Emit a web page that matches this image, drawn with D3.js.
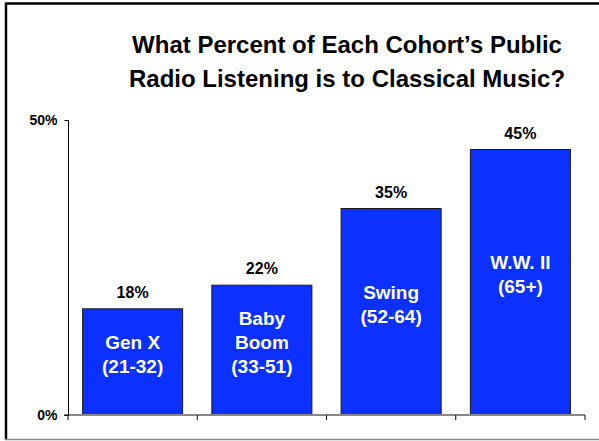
<!DOCTYPE html>
<html>
<head>
<meta charset="utf-8">
<script src="https://cdn.jsdelivr.net/npm/d3@7"></script>
<style>
  html, body { margin: 0; padding: 0; background: #fff; }
  svg { display: block; font-family: "Liberation Sans", Arial, sans-serif; }
</style>
</head>
<body>
<svg id="chart" width="599" height="441"></svg>
<script>
const titleLines = ["What Percent of Each Cohort\u2019s Public", "Radio Listening is to Classical Music?"];
const categories = ["Gen X", "Baby Boom", "Swing", "W.W. II"];
const barLabels = [["Gen X", "(21-32)"], ["Baby", "Boom", "(33-51)"], ["Swing", "(52-64)"], ["W.W. II", "(65+)"]];
const values = [18, 22, 35, 45];
const yTicks = [0, 50];

const svg = d3.select("#chart");
const W = 599, H = 441;

// frame
svg.append("line").attr("x1", 5).attr("x2", W).attr("y1", 3.5).attr("y2", 3.5)
  .attr("stroke", "#000").attr("stroke-width", 2.5);
svg.append("line").attr("x1", 6).attr("x2", 6).attr("y1", 3).attr("y2", 440)
  .attr("stroke", "#000").attr("stroke-width", 2.5);
svg.append("line").attr("x1", 5).attr("x2", W).attr("y1", 439.5).attr("y2", 439.5)
  .attr("stroke", "#888").attr("stroke-width", 1.5);

// title
svg.append("text")
  .attr("x", 347).attr("y", 52.5)
  .attr("text-anchor", "middle")
  .attr("font-size", 24).attr("font-weight", "bold").attr("fill", "#000")
  .selectAll("tspan").data(titleLines).join("tspan")
  .attr("x", 347).attr("dy", (d, i) => i === 0 ? 0 : 34)
  .text(d => d);

const x = d3.scaleBand().domain(categories).range([68, 585])
  .paddingInner(0.226).paddingOuter(0.113);
const y = d3.scaleLinear().domain([0, 50]).range([415, 120]);

// bars
svg.append("g").selectAll("rect").data(values).join("rect")
  .attr("x", (d, i) => x(categories[i]))
  .attr("y", d => y(d))
  .attr("width", x.bandwidth())
  .attr("height", d => y(0) - y(d))
  .attr("fill", "#0b30ff")
  .attr("stroke", "#1a1a1a").attr("stroke-width", 1);

// x axis (gray baseline with black category ticks)
svg.append("line").attr("x1", 64).attr("x2", 585).attr("y1", y(0)).attr("y2", y(0))
  .attr("stroke", "#888").attr("stroke-width", 2);
const step = x.step();
const bounds = d3.range(categories.length + 1).map(i => 68 + i * step);
svg.append("g").selectAll("line").data(bounds).join("line")
  .attr("x1", d => d).attr("x2", d => d)
  .attr("y1", y(0)).attr("y2", y(0) + 5)
  .attr("stroke", "#000").attr("stroke-width", 1);

// y axis
const yAxis = d3.axisLeft(y).tickValues(yTicks).tickSize(4).tickFormat(d => d + "%");
const gy = svg.append("g").attr("transform", "translate(68.5,0)").call(yAxis);
gy.select(".domain").attr("stroke", "#000").attr("d", `M-0,${y(50)}V${y(0)}`);
gy.selectAll(".tick line").attr("stroke", "#000");
gy.selectAll(".tick text")
  .attr("font-family", "'Liberation Sans', Arial, sans-serif")
  .attr("font-size", 14).attr("font-weight", "bold").attr("fill", "#000")
  .attr("x", -11);

// value labels
svg.append("g").selectAll("text").data(values).join("text")
  .attr("x", (d, i) => x(categories[i]) + x.bandwidth() / 2)
  .attr("y", d => y(d) - 11)
  .attr("text-anchor", "middle")
  .attr("font-size", 16).attr("font-weight", "bold").attr("fill", "#000")
  .text(d => d + "%");

// in-bar labels
const lh = 24;
values.forEach((v, i) => {
  const lines = barLabels[i];
  const cx = x(categories[i]) + x.bandwidth() / 2;
  const mid = (y(v) + y(0)) / 2 - 8;
  const first = mid - (lines.length - 1) * lh / 2 + 7;
  svg.append("text")
    .attr("text-anchor", "middle")
    .attr("font-size", 19).attr("font-weight", "bold").attr("fill", "#fff")
    .selectAll("tspan").data(lines).join("tspan")
    .attr("x", cx).attr("y", (d, j) => first + j * lh)
    .text(d => d);
});
</script>
</body>
</html>
